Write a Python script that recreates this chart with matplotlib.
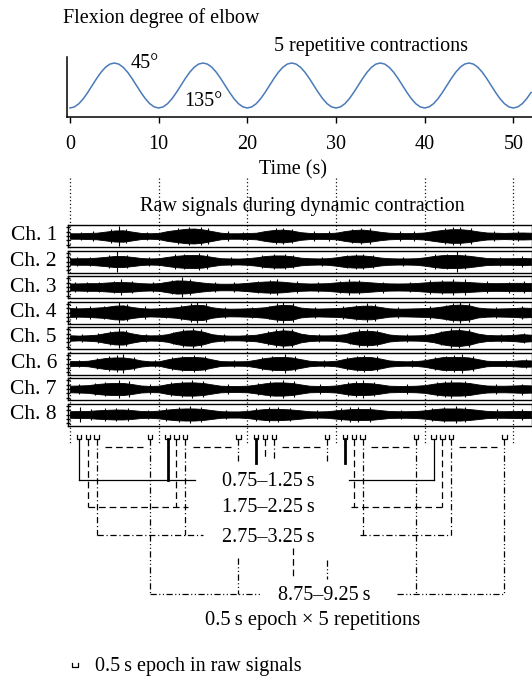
import matplotlib
matplotlib.use('Agg')
import matplotlib.pyplot as plt
import numpy as np

plt.rcParams['font.family'] = ['Liberation Serif', 'DejaVu Serif']
plt.rcParams['font.size'] = 14.5
plt.rcParams['lines.scale_dashes'] = False

# ---------------- data ----------------
time_ticks = [0, 10, 20, 30, 40, 50]
time_ticklabels = ['0', '10', '20', '30', '40', '50']

# flexion angle (deg) sampled every 0.5 s from 0 to 52 s
flex_deg = [
    135, 132.8, 126.4, 116.5, 103.9, 90, 76.1, 63.5, 53.6, 47.2,
    45, 47.2, 53.6, 63.5, 76.1, 90, 103.9, 116.5, 126.4, 132.8,
    135, 132.8, 126.4, 116.5, 103.9, 90, 76.1, 63.5, 53.6, 47.2,
    45, 47.2, 53.6, 63.5, 76.1, 90, 103.9, 116.5, 126.4, 132.8,
    135, 132.8, 126.4, 116.5, 103.9, 90, 76.1, 63.5, 53.6, 47.2,
    45, 47.2, 53.6, 63.5, 76.1, 90, 103.9, 116.5, 126.4, 132.8,
    135, 132.8, 126.4, 116.5, 103.9, 90, 76.1, 63.5, 53.6, 47.2,
    45, 47.2, 53.6, 63.5, 76.1, 90, 103.9, 116.5, 126.4, 132.8,
    135, 132.8, 126.4, 116.5, 103.9, 90, 76.1, 63.5, 53.6, 47.2,
    45, 47.2, 53.6, 63.5, 76.1, 90, 103.9, 116.5, 126.4, 132.8,
    135, 132.8, 126.4, 116.5, 103.9,
]
flex_t = np.arange(len(flex_deg)) * 0.5

channels = ['Ch. 1', 'Ch. 2', 'Ch. 3', 'Ch. 4', 'Ch. 5', 'Ch. 6', 'Ch. 7', 'Ch. 8']
# EMG amplitude envelopes (fraction of half box height), one value per second 0..52 s
env_ch1 = [0.25,0.25,0.28,0.30,0.40,0.50,0.52,0.40,0.28,0.25,0.28,0.45,0.55,0.65,0.68,0.60,0.45,0.30,0.25,0.25,
           0.27,0.30,0.45,0.55,0.58,0.50,0.35,0.28,0.26,0.27,0.30,0.45,0.55,0.58,0.50,0.38,0.30,0.27,0.26,0.28,
           0.32,0.45,0.55,0.62,0.62,0.55,0.42,0.32,0.30,0.28,0.30,0.32,0.30]
env_ch2 = [0.28,0.30,0.30,0.35,0.42,0.50,0.50,0.42,0.32,0.28,0.30,0.42,0.52,0.58,0.60,0.55,0.42,0.30,0.28,0.27,
           0.30,0.38,0.50,0.55,0.55,0.48,0.35,0.30,0.28,0.30,0.38,0.50,0.55,0.55,0.48,0.36,0.30,0.28,0.28,0.30,
           0.38,0.50,0.58,0.60,0.58,0.52,0.42,0.32,0.30,0.30,0.30,0.32,0.30]
env_ch3 = [0.32,0.33,0.35,0.35,0.40,0.45,0.45,0.42,0.35,0.32,0.35,0.48,0.60,0.58,0.50,0.40,0.33,0.30,0.30,0.32,
           0.38,0.45,0.50,0.52,0.48,0.40,0.35,0.32,0.33,0.35,0.42,0.48,0.50,0.48,0.42,0.36,0.33,0.32,0.33,0.36,
           0.42,0.48,0.50,0.50,0.48,0.45,0.40,0.36,0.35,0.36,0.38,0.38,0.36]
env_ch4 = [0.40,0.38,0.40,0.45,0.50,0.62,0.65,0.50,0.40,0.36,0.38,0.42,0.48,0.60,0.70,0.68,0.48,0.38,0.35,0.36,
           0.38,0.42,0.48,0.62,0.70,0.66,0.45,0.38,0.36,0.38,0.40,0.45,0.55,0.62,0.62,0.50,0.38,0.35,0.36,0.38,
           0.40,0.45,0.55,0.68,0.72,0.65,0.45,0.38,0.36,0.38,0.40,0.45,0.42]
env_ch5 = [0.25,0.22,0.25,0.30,0.45,0.58,0.60,0.42,0.28,0.24,0.25,0.35,0.55,0.68,0.70,0.58,0.35,0.25,0.22,0.22,
           0.25,0.30,0.45,0.60,0.70,0.65,0.40,0.28,0.24,0.24,0.26,0.35,0.55,0.65,0.65,0.52,0.32,0.25,0.23,0.24,
           0.27,0.38,0.58,0.70,0.72,0.62,0.40,0.28,0.25,0.25,0.28,0.35,0.30]
env_ch6 = [0.22,0.22,0.25,0.38,0.50,0.55,0.55,0.45,0.28,0.20,0.20,0.38,0.52,0.60,0.60,0.55,0.38,0.22,0.20,0.20,
           0.22,0.35,0.50,0.58,0.60,0.55,0.40,0.25,0.20,0.20,0.25,0.42,0.55,0.60,0.58,0.45,0.28,0.22,0.20,0.22,
           0.30,0.45,0.58,0.60,0.60,0.55,0.40,0.25,0.22,0.22,0.25,0.30,0.28]
env_ch7 = [0.30,0.32,0.35,0.45,0.52,0.55,0.55,0.45,0.32,0.28,0.30,0.45,0.55,0.60,0.60,0.55,0.42,0.30,0.28,0.28,
           0.30,0.40,0.52,0.60,0.60,0.55,0.42,0.30,0.28,0.28,0.32,0.45,0.55,0.55,0.52,0.42,0.30,0.28,0.28,0.30,
           0.35,0.48,0.58,0.60,0.60,0.55,0.42,0.32,0.30,0.30,0.32,0.35,0.33]
env_ch8 = [0.30,0.32,0.32,0.38,0.42,0.45,0.45,0.40,0.32,0.30,0.35,0.45,0.52,0.55,0.55,0.50,0.40,0.30,0.28,0.28,
           0.32,0.42,0.50,0.52,0.50,0.45,0.38,0.30,0.28,0.30,0.38,0.45,0.50,0.50,0.48,0.40,0.32,0.30,0.30,0.32,
           0.38,0.48,0.55,0.55,0.55,0.50,0.42,0.33,0.30,0.30,0.32,0.33,0.32]
envelopes = [env_ch1, env_ch2, env_ch3, env_ch4, env_ch5, env_ch6, env_ch7, env_ch8]
env_t = np.arange(len(env_ch1))

# visible spikes per channel: (time s, amplitude)
spikes = [
    [(1.2, 0.40), (2.6, 0.42), (4.6, 0.62), (5.5, 0.90), (6.3, 0.66), (8.7, 0.40), (12.2, 0.75), (13.4, 0.82),
     (14.8, 0.84), (15.6, 0.70), (17.8, 0.42), (19.5, 0.38), (23.2, 0.72), (24.0, 0.72), (25.0, 0.66), (27.5, 0.42),
     (29.2, 0.42), (31.8, 0.66), (32.8, 0.72), (33.8, 0.70), (37.2, 0.42), (38.8, 0.44), (42.3, 0.72), (43.2, 0.78),
     (44.0, 0.84), (45.2, 0.74), (47.8, 0.45), (50.5, 0.46)],
    [(0.8, 0.42), (2.2, 0.45), (4.4, 0.60), (5.3, 0.92), (6.4, 0.62), (8.9, 0.44), (11.8, 0.66), (12.9, 0.72),
     (14.5, 0.78), (15.4, 0.70), (18.2, 0.42), (21.6, 0.55), (23.0, 0.70), (24.2, 0.72), (25.2, 0.62), (28.4, 0.44),
     (31.2, 0.62), (32.2, 0.70), (33.0, 0.72), (34.2, 0.62), (37.6, 0.44), (41.2, 0.64), (42.5, 0.70), (43.6, 0.92),
     (44.6, 0.72), (48.5, 0.45), (51.0, 0.46)],
    [(0.6, 0.46), (1.9, 0.48), (3.3, 0.48), (5.0, 0.58), (5.8, 0.70), (7.0, 0.55), (9.4, 0.46), (11.5, 0.66),
     (12.6, 0.92), (13.5, 0.72), (16.4, 0.45), (18.5, 0.44), (21.2, 0.58), (22.5, 0.66), (23.4, 0.72), (25.6, 0.52),
     (28.0, 0.46), (30.5, 0.58), (31.5, 0.70), (32.6, 0.66), (35.3, 0.50), (38.4, 0.48), (40.6, 0.62), (42.0, 0.66),
     (43.2, 0.70), (44.5, 0.75), (47.0, 0.52), (49.5, 0.50), (51.2, 0.52)],
    [(0.7, 0.55), (2.3, 0.55), (3.8, 0.62), (5.5, 0.95), (6.4, 0.80), (8.5, 0.55), (10.8, 0.52), (12.5, 0.66),
     (13.6, 0.82), (14.3, 0.95), (15.3, 0.82), (17.5, 0.52), (20.5, 0.52), (22.4, 0.62), (23.3, 0.82), (24.0, 0.95),
     (25.2, 0.82), (27.6, 0.52), (30.8, 0.58), (32.2, 0.72), (33.5, 0.82), (34.4, 0.75), (37.0, 0.50), (40.6, 0.58),
     (42.4, 0.72), (43.2, 0.85), (44.0, 0.95), (45.0, 0.82), (48.0, 0.52), (51.0, 0.60)],
    [(1.4, 0.36), (3.2, 0.42), (4.5, 0.66), (5.5, 0.90), (6.3, 0.75), (8.6, 0.38), (11.6, 0.55), (12.8, 0.80),
     (13.9, 0.90), (14.8, 0.80), (17.4, 0.36), (19.8, 0.36), (22.3, 0.62), (23.2, 0.80), (24.0, 0.95), (25.0, 0.82),
     (28.1, 0.36), (31.6, 0.55), (32.6, 0.78), (33.5, 0.85), (34.6, 0.75), (38.0, 0.36), (41.8, 0.62), (43.0, 0.90),
     (43.9, 0.88), (45.0, 0.80), (48.6, 0.40), (51.2, 0.45)],
    [(1.0, 0.34), (3.0, 0.52), (4.4, 0.70), (5.3, 0.75), (6.0, 0.85), (7.2, 0.60), (9.6, 0.32), (11.5, 0.60),
     (12.6, 0.72), (14.0, 0.80), (15.2, 0.72), (18.5, 0.32), (21.6, 0.55), (22.8, 0.72), (24.3, 0.85), (25.4, 0.70),
     (28.6, 0.32), (31.2, 0.60), (32.4, 0.72), (33.2, 0.80), (34.6, 0.66), (38.6, 0.32), (41.2, 0.62), (42.4, 0.72),
     (43.3, 0.78), (44.2, 0.85), (45.4, 0.70), (49.2, 0.36), (51.4, 0.42)],
    [(1.0, 0.45), (2.8, 0.52), (3.9, 0.66), (5.5, 0.85), (6.6, 0.70), (9.0, 0.42), (11.4, 0.62), (12.6, 0.72),
     (13.8, 0.80), (15.0, 0.72), (17.8, 0.42), (21.2, 0.55), (22.6, 0.70), (24.0, 0.85), (25.3, 0.70), (28.2, 0.42),
     (31.3, 0.62), (32.2, 0.72), (33.0, 0.80), (34.3, 0.66), (38.0, 0.42), (41.4, 0.64), (42.3, 0.72), (43.0, 0.85),
     (44.5, 0.74), (48.0, 0.45), (51.0, 0.50)],
    [(1.1, 0.70), (2.4, 0.46), (4.0, 0.55), (5.2, 0.62), (6.5, 0.58), (8.8, 0.45), (10.8, 0.55), (12.3, 0.66),
     (13.5, 0.75), (14.8, 0.70), (17.6, 0.42), (21.0, 0.55), (22.4, 0.64), (23.5, 0.70), (24.8, 0.62), (27.8, 0.44),
     (30.6, 0.55), (31.6, 0.64), (32.5, 0.70), (33.8, 0.64), (37.3, 0.44), (40.8, 0.58), (42.2, 0.70), (43.5, 0.75),
     (44.6, 0.70), (48.2, 0.46), (51.0, 0.48)],
]

rep_onsets = [0, 10, 20, 30, 40]          # s, start of each contraction
epoch_centers = [1, 2, 3, 9]              # s within each repetition
epoch_labels = ['0.75\u20131.25\u2009s', '1.75\u20132.25\u2009s',
                '2.75\u20133.25\u2009s', '8.75\u20139.25\u2009s']
epoch_halfwidth = 0.25

# ---------------- layout helpers ----------------
W, H = 532, 680
PPS = 8.867   # pixels per second
X0 = 70.0     # pixel of t = 0
TMAX = (W - X0) / PPS

fig = plt.figure(figsize=(W / 100, H / 100), dpi=100)


def rect(t0, t1, ytop, ybot):
    return [(X0 + t0 * PPS) / W, 1 - ybot / H, (t1 - t0) * PPS / W, (ybot - ytop) / H]


def ftext(x, y, s, **kw):
    kw.setdefault('va', 'center')
    return fig.text(x / W, 1 - y / H, s, **kw)


# ---------------- flexion panel ----------------
ax = fig.add_axes(rect(-0.35, TMAX, 57, 117))
ax.plot(flex_t, flex_deg, color='#4a7ab9', lw=1.1)
ax.set_xlim(-0.35, TMAX)
ax.set_ylim(153, 33)
ax.spines[['top', 'right']].set_visible(False)
for s in ['left', 'bottom']:
    ax.spines[s].set_linewidth(1.1)
ax.set_yticks([])
ax.set_xticks(time_ticks)
ax.set_xticklabels(time_ticklabels)
ax.tick_params(axis='x', length=4, width=1, pad=9, labelsize=14.5)
ax.text(8.4, 46, '45\u00b0', ha='center', va='center')
ax.text(15.0, 123, '135\u00b0', ha='center', va='center')

ftext(63, 18, 'Flexion degree of elbow', ha='left')
ftext(371, 46, '5 repetitive contractions', ha='center')
ftext(293, 170, 'Time (s)', ha='center')
ftext(302, 206, 'Raw signals during dynamic contraction', ha='center')

# ---------------- raw signal boxes ----------------
BOX_TOP0, BOX_PITCH, BOX_H = 225, 25.5, 22.0
for i, (name, env) in enumerate(zip(channels, envelopes)):
    ytop = BOX_TOP0 + i * BOX_PITCH
    a = fig.add_axes(rect(-0.2, TMAX, ytop, ytop + BOX_H))
    env = np.asarray(env)
    a.fill_between(env_t, -env, env, color='black', lw=0.6, edgecolor='black')
    st, sa = zip(*spikes[i])
    a.vlines(st, [-v for v in sa], sa, color='black', lw=0.8)
    a.set_xlim(-0.2, TMAX)
    a.set_ylim(-1, 1)
    a.set_xticks([])
    a.set_yticks([-0.8, -0.4, 0, 0.4, 0.8])
    a.set_yticklabels([])
    a.tick_params(axis='y', length=2.5, width=1, direction='inout')
    for s in a.spines.values():
        s.set_linewidth(1.0)
    ftext(57, ytop + BOX_H / 2, name, ha='right', fontsize=15.5)

# ---------------- overlay (guides + epoch connectors) ----------------
ov = fig.add_axes(rect(-0.2, TMAX, 170, 680))
ov.set_xlim(-0.2, TMAX)
ov.set_ylim(680, 170)
ov.axis('off')
ov.patch.set_alpha(0)

DOT = (0, (0.8, 1.8))
DASH = (0, (4.8, 2.8))
DASHDOT = (0, (4.5, 2.0, 0.8, 2.0))
DASHDOTDOT = (0, (4.5, 1.8, 0.8, 1.8, 0.8, 1.8))
LW = 0.9

# dotted time guides
ov.vlines(time_ticks, 178, 443, colors='black', linestyles=[DOT], lw=0.9)

Y_MT, Y_MB = 435, 438.5
# epoch markers
for r in rep_onsets:
    for c in epoch_centers:
        t = r + c
        ov.plot([t - epoch_halfwidth, t - epoch_halfwidth, t + epoch_halfwidth, t + epoch_halfwidth],
                [Y_MT, Y_MB, Y_MB, Y_MT], color='black', lw=0.9, solid_joinstyle='miter')
    # "..." dashed between third and last epoch
    ov.plot([r + 3.9, r + 8.2], [447, 447], color='black', lw=LW, ls=DASH)

levels = [480, 507, 535, 594]
styles = ['-', DASH, DASHDOT, DASHDOTDOT]
left_end = [14.1, 13.3, 15.0, 21.4]
right_start = [31.5, 31.7, 32.7, 36.9]
short_end = [463, 458, 460, 461]


def vline(t, y0, y1, ls, lw=LW):
    ov.plot([t, t], [y0, y1], color='black', lw=lw, ls=ls)


for j, c in enumerate(epoch_centers):
    y, ls = levels[j], styles[j]
    thick = 2.0 if j == 0 else LW
    vline(rep_onsets[0] + c, Y_MB, y, ls)
    ov.plot([rep_onsets[0] + c, left_end[j]], [y, y], color='black', lw=LW, ls=ls)
    vline(rep_onsets[4] + c, Y_MB, y, ls)
    ov.plot([right_start[j], rep_onsets[4] + c], [y, y], color='black', lw=LW, ls=ls)
    if j < 3:
        vline(rep_onsets[1] + c, Y_MB, y, ls, thick)
        vline(rep_onsets[2] + c, Y_MB, short_end[j], ls, thick)
        if j == 0:
            vline(rep_onsets[3] + c, Y_MB, short_end[j], ls, thick)
        else:
            vline(rep_onsets[3] + c, Y_MB, y, ls)
    else:
        vline(rep_onsets[1] + c, Y_MB, short_end[j], ls)
        vline(rep_onsets[1] + c, 558, y, ls)
        vline(rep_onsets[2] + c, Y_MB, short_end[j], ls)
        vline(rep_onsets[2] + c, 560, 579, ls)
        vline(rep_onsets[3] + c, Y_MB, y, ls)

# central dashed lead under the labels
vline(25.2, 548, 579, DASH)

# legend marker
lt = 0.56
ov.plot([lt - 0.3, lt - 0.3, lt + 0.3, lt + 0.3],
        [662.5, 666.5, 666.5, 662.5], color='black', lw=0.9)

# labels
ftext(268, 482, epoch_labels[0], ha='center')
ftext(268, 508, epoch_labels[1], ha='center')
ftext(268, 537.5, epoch_labels[2], ha='center')
ftext(324, 595, epoch_labels[3], ha='center')
ftext(313, 620, '0.5\u2009s epoch \u00d7 5 repetitions', ha='center', fontsize=14.8)
ftext(95, 666, '0.5\u2009s epoch in raw signals', ha='left')

fig.savefig('out.png', dpi=100)
